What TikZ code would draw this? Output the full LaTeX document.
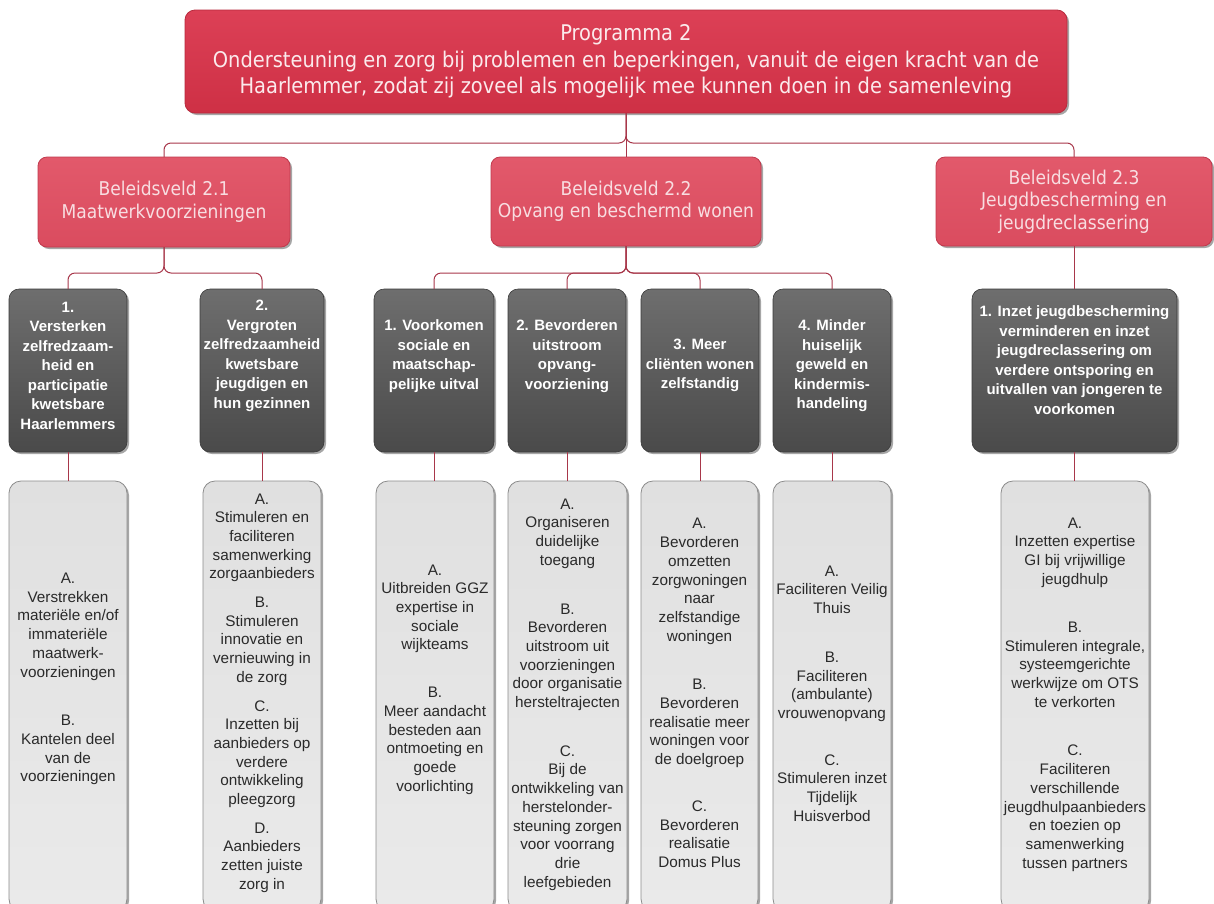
\documentclass[tikz,border=0pt]{standalone}
\usepackage{fontspec}
\setmainfont{Liberation Sans}
\newfontfamily\hdrfont{DejaVu Sans Condensed}
\usetikzlibrary{shadows}
\definecolor{connred}{HTML}{A8374A}
\definecolor{topA}{HTML}{DC4056}
\definecolor{topB}{HTML}{CE3045}
\definecolor{topD}{HTML}{B82A3D}
\definecolor{bvA}{HTML}{E2596B}
\definecolor{bvB}{HTML}{DA4C5F}
\definecolor{bvD}{HTML}{C03A4D}
\definecolor{toptext}{HTML}{FBEAEC}
\definecolor{bvtext}{HTML}{F8DDE1}
\definecolor{dkA}{HTML}{6E6E6E}
\definecolor{dkB}{HTML}{4A4A4A}
\definecolor{dkD}{HTML}{3A3A3A}
\definecolor{wtA}{HTML}{E0E0E0}
\definecolor{wtB}{HTML}{EAEAEA}
\definecolor{wtD}{HTML}{8C8C8C}
\definecolor{wttext}{HTML}{2A2A2A}
\tikzset{
  box/.style={rectangle, anchor=north west, inner sep=0pt, outer sep=0pt},
  shad/.style={drop shadow={shadow xshift=2pt, shadow yshift=-2pt, opacity=0.35, fill=black}},
  topbox/.style={box, shad, rounded corners=10pt, top color=topA, bottom color=topB, draw=topD, line width=0.8pt,
    align=center, text=toptext, font=\hdrfont\fontsize{21.6}{26.5}\selectfont},
  bvbox/.style={box, shad, rounded corners=9pt, top color=bvA, bottom color=bvB, draw=bvD, line width=0.8pt,
    align=center, text=bvtext, font=\hdrfont\fontsize{19}{22.5}\selectfont},
  dkbox/.style={box, shad, rounded corners=10pt, top color=dkA, bottom color=dkB, draw=dkD, line width=0.6pt},
  wtbox/.style={box, shad, rounded corners=12pt, top color=wtA, bottom color=wtB, draw=wtD, line width=0.8pt},
  dktext/.style={align=center, text=white, inner sep=0pt, font=\bfseries\fontsize{15}{19.5}\selectfont},
  wttext/.style={align=center, text=wttext, inner sep=0pt, font=\fontsize{15.3}{18.7}\selectfont},
  conn/.style={draw=connred, line width=1pt, rounded corners=7pt}
}
\begin{document}
\begin{tikzpicture}[x=1pt,y=-1pt]
\clip (0,0) rectangle (1214,903);
\fill[white] (0,0) rectangle (1214,903);
\coordinate (hy) at (0,143);
\coordinate (hy2) at (0,273);

% top
\node[topbox, minimum width=882pt, minimum height=103pt] (top) at (185,10)
 {Programma 2\\Ondersteuning en zorg bij problemen en beperkingen, vanuit de eigen kracht van de\\Haarlemmer, zodat zij zoveel als mogelijk mee kunnen doen in de samenleving};

% beleidsvelden
\node[bvbox, minimum width=252pt, minimum height=90pt] (b21) at (38,157) {Beleidsveld 2.1\\Maatwerkvoorzieningen};
\node[bvbox, minimum width=270pt, minimum height=89pt] (b22) at (491,157) {Beleidsveld 2.2\\Opvang en beschermd wonen};
\node[bvbox, minimum width=276pt, minimum height=89pt] (b23) at (936,157) {Beleidsveld 2.3\\Jeugdbescherming en\\jeugdreclassering};

% dark boxes
\node[dkbox, minimum width=118pt, minimum height=163pt] (d1) at (9,289) {};
\node[dkbox, minimum width=124pt, minimum height=163pt] (d2) at (200,289) {};
\node[dkbox, minimum width=120pt, minimum height=163pt] (d3) at (374,289) {};
\node[dkbox, minimum width=118pt, minimum height=163pt] (d4) at (508,289) {};
\node[dkbox, minimum width=118pt, minimum height=163pt] (d5) at (641,289) {};
\node[dkbox, minimum width=118pt, minimum height=163pt] (d6) at (773,289) {};
\node[dkbox, minimum width=205pt, minimum height=163pt] (d7) at (972,289) {};

\node[dktext] (td1) at (68,365.5) {1.\\Versterken\\zelfredzaam-\\heid en\\participatie\\kwetsbare\\Haarlemmers};
\node[dktext] (td2) at (262,356) {2.\\Vergroten\\zelfredzaamheid\\kwetsbare\\jeugdigen en\\hun gezinnen};
\node[dktext] (td3) at (434,356) {1. Voorkomen\\sociale en\\maatschap-\\pelijke uitval};
\node[dktext] (td4) at (567,356) {2. Bevorderen\\uitstroom\\opvang-\\voorziening};
\node[dktext] (td5) at (700,365.5) {3. Meer\\cliënten wonen\\zelfstandig};
\node[dktext] (td6) at (832,366) {4. Minder\\huiselijk\\geweld en\\kindermis-\\handeling};
\node[dktext] (td7) at (1074.5,360) {1. Inzet jeugdbescherming\\verminderen en inzet\\jeugdreclassering om\\verdere ontsporing en\\uitvallen van jongeren te\\voorkomen};

% white boxes
\node[wtbox, minimum width=118pt, minimum height=430pt] (w1) at (9,481) {};
\node[wtbox, minimum width=118pt, minimum height=430pt] (w2) at (203,481) {};
\node[wtbox, minimum width=118pt, minimum height=430pt] (w3) at (376,481) {};
\node[wtbox, minimum width=119pt, minimum height=430pt] (w4) at (508,481) {};
\node[wtbox, minimum width=117pt, minimum height=430pt] (w5) at (641,481) {};
\node[wtbox, minimum width=118pt, minimum height=430pt] (w6) at (773,481) {};
\node[wtbox, minimum width=148pt, minimum height=430pt] (w7) at (1001,481) {};

\node[wttext] (tw1) at (68,679) {A.\\Verstrekken\\materiële en/of\\immateriële\\maatwerk-\\voorzieningen\\[30pt]B.\\Kantelen deel\\van de\\voorzieningen};
\node[wttext] (tw2) at (262,693) {A.\\Stimuleren en\\faciliteren\\samenwerking\\zorgaanbieders\\[10pt]B.\\Stimuleren\\innovatie en\\vernieuwing in\\de zorg\\[10pt]C.\\Inzetten bij\\aanbieders op\\verdere\\ontwikkeling\\pleegzorg\\[10pt]D.\\Aanbieders\\zetten juiste\\zorg in};
\node[wttext] (tw3) at (435,679.5) {A.\\Uitbreiden GGZ\\expertise in\\sociale\\wijkteams\\[29pt]B.\\Meer aandacht\\besteden aan\\ontmoeting en\\goede\\voorlichting};
\node[wttext] (tw4) at (567.5,694.5) {A.\\Organiseren\\duidelijke\\toegang\\[30pt]B.\\Bevorderen\\uitstroom uit\\voorzieningen\\door organisatie\\hersteltrajecten\\[30pt]C.\\Bij de\\ontwikkeling van\\herstelonder-\\steuning zorgen\\voor voorrang\\drie\\leefgebieden};
\node[wttext] (tw5) at (699.5,693) {A.\\Bevorderen\\omzetten\\zorgwoningen\\naar\\zelfstandige\\woningen\\[30pt]B.\\Bevorderen\\realisatie meer\\woningen voor\\de doelgroep\\[28pt]C.\\Bevorderen\\realisatie\\Domus Plus};
\node[wttext] (tw6) at (832,693.5) {A.\\Faciliteren Veilig\\Thuis\\[30pt]B.\\Faciliteren\\(ambulante)\\vrouwenopvang\\[28pt]C.\\Stimuleren inzet\\Tijdelijk\\Huisverbod};
\node[wttext] (tw7) at (1075,694.5) {A.\\Inzetten expertise\\GI bij vrijwillige\\jeugdhulp\\[29.5pt]B.\\Stimuleren integrale,\\systeemgerichte\\werkwijze om OTS\\te verkorten\\[30pt]C.\\Faciliteren\\verschillende\\jeugdhulpaanbieders\\en toezien op\\samenwerking\\tussen partners};

% connectors
\draw[conn] (top.south) |- (b21.north |- hy) -- (b21.north);
\draw[conn] (top.south) |- (b23.north |- hy) -- (b23.north);
\draw[conn] (top.south) -- (b22.north);

\draw[conn] (b21.south) |- (d1.north |- hy2) -- (d1.north);
\draw[conn] (b21.south) |- (d2.north |- hy2) -- (d2.north);
\draw[conn] (b22.south) |- (d3.north |- hy2) -- (d3.north);
\draw[conn] (b22.south) |- (d4.north |- hy2) -- (d4.north);
\draw[conn] (b22.south) |- (d5.north |- hy2) -- (d5.north);
\draw[conn] (b22.south) |- (d6.north |- hy2) -- (d6.north);
\draw[conn] (b23.south) -- (b23.south |- d7.north);

\draw[conn] (d1.south) -- (d1.south |- w1.north);
\draw[conn] (d2.south) -- (d2.south |- w2.north);
\draw[conn] (d3.south) -- (d3.south |- w3.north);
\draw[conn] (d4.south) -- (d4.south |- w4.north);
\draw[conn] (d5.south) -- (d5.south |- w5.north);
\draw[conn] (d6.south) -- (d6.south |- w6.north);
\draw[conn] (d7.south) -- (d7.south |- w7.north);
\end{tikzpicture}
\end{document}
